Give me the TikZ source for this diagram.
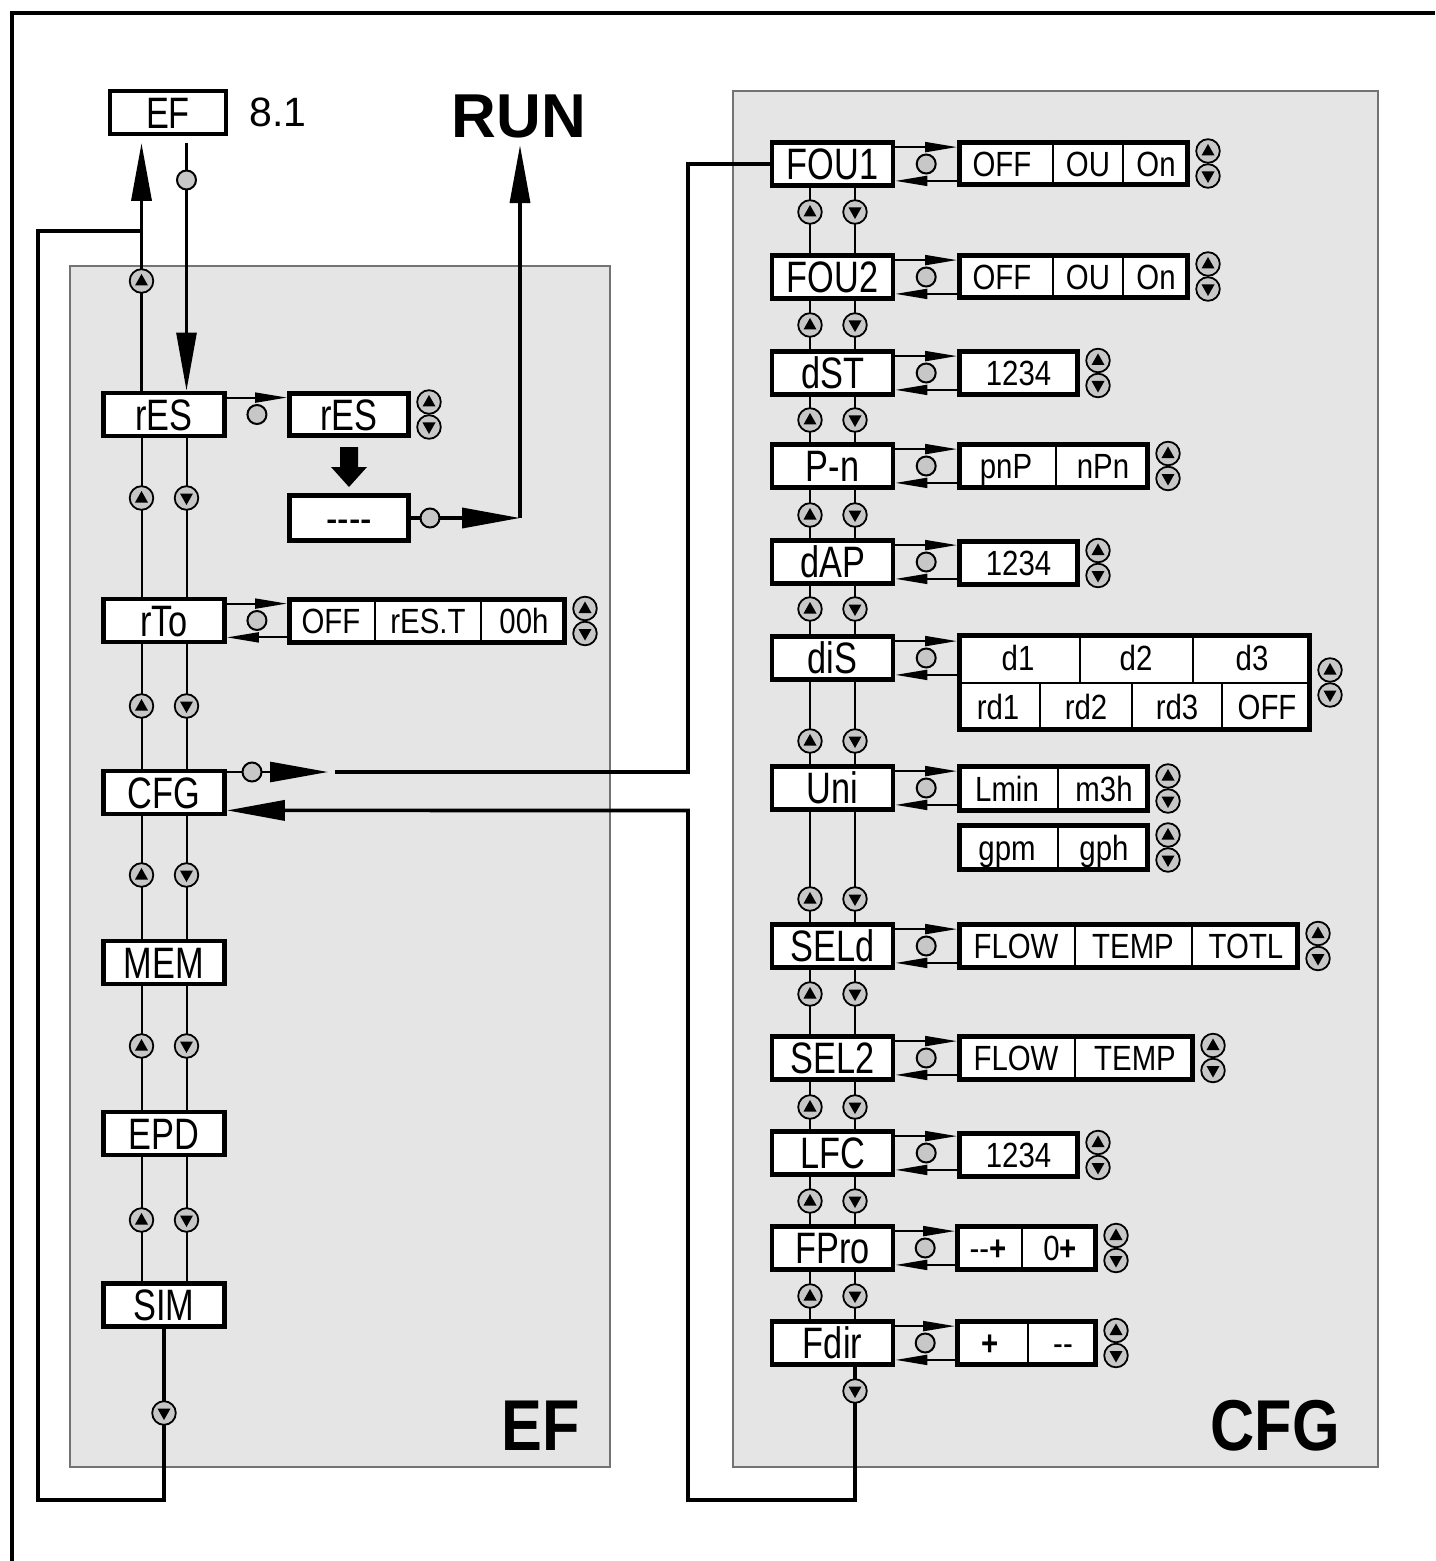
\documentclass[tikz,border=0pt]{standalone}
\usepackage{fontspec}
\setmainfont{Liberation Sans}
\newfontfamily\keyf{Liberation Sans}[FakeStretch=0.78]
\newfontfamily\valf{Liberation Sans}[FakeStretch=0.84]
\newfontfamily\labf{Liberation Sans}[FakeStretch=0.85]
\usetikzlibrary{arrows.meta,calc}
\tikzset{
 bigtip/.tip={Triangle[length=29pt,width=10pt]},
 smtip/.tip={Triangle[length=16pt,width=5pt]},
 thinl/.style={line width=1pt},
 medl/.style={line width=1.4pt},
 thickl/.style={line width=1.8pt},
 panel/.style={fill=black!10, draw=black!55, line width=0.7pt},
 key/.style={draw, fill=white, line width=2.4pt, minimum width=60.5pt, minimum height=21.5pt, inner sep=0pt, font={\keyf\fontsize{22}{24}\selectfont}, text height=15.75pt, text depth=0pt},
 vb/.style={draw, fill=white, line width=2.4pt, inner sep=0pt},
 vt/.style={inner sep=0pt, font={\valf\fontsize{17.5}{20}\selectfont}, text height=12.5pt, text depth=0pt},
 kt/.style={inner sep=0pt, font={\keyf\fontsize{22}{24}\selectfont}, text height=15.75pt, text depth=0pt},
 divl/.style={line width=1pt},
 setc/.style={circle, draw, line width=1pt, fill=black!22, minimum size=9.5pt, inner sep=0pt},
 upb/.pic={\draw[line width=0.9pt, fill=black!22] (0,0) circle[radius=5.9pt]; \fill (0,-7) -- (6.5,4.5) -- (-6.5,4.5) -- cycle;},
 dnb/.pic={\draw[line width=0.9pt, fill=black!22] (0,0) circle[radius=5.9pt]; \fill (0,7) -- (6.5,-4.5) -- (-6.5,-4.5) -- cycle;},
 updn/.pic={\pic at (0,-12.5) {upb}; \pic at (0,12.5) {dnb};},
}
\newcommand\valbox[4]{\node[vb, minimum width=#3pt, minimum height=#4pt] (#1) at (#2) {};}
\newcommand\vtx[4]{\node[vt] (#1) at (#2,#3) {#4};}
\newcommand\dvl[2]{\draw[divl] (#2,0 |- #1.north) -- (#2,0 |- #1.south);}
\newcommand\kvcon[2]{%
 \draw[thinl,-{smtip}] ([yshift=-3.5pt]#1.north east) -- ([yshift=-3.5pt]#1.north east -| #2.west);
 \draw[thinl,-{smtip}] ([yshift=3.5pt]#1.south east -| #2.west) -- ([yshift=3.5pt]#1.south east);
 \node[setc] (c#1) at ($(#1.east)!0.5!(#1.east -| #2.west)$) {};}
\newcommand\colcon[3]{%
 \draw[thinl] ([xshift=-11.25pt]#1.south) -- ([xshift=-11.25pt]#2.north);
 \draw[thinl] ([xshift=11.25pt]#1.south) -- ([xshift=11.25pt]#2.north);
 \pic at ([xshift=-11.25pt]#1.south |- 0,#3) {upb};
 \pic at ([xshift=11.25pt]#1.south |- 0,#3) {dnb};}
\newcommand\btns[1]{\pic at ($(#1.east)+(18,0)$) {updn};}
\begin{document}
\begin{tikzpicture}[x=0.5pt,y=-0.5pt, line join=miter]
\useasboundingbox (0,0) rectangle (1435,1561);
\fill[white] (0,0) rectangle (1435,1561);
\draw[line width=1.6pt] (12,1561) -- (12,13) -- (1435,13);
\draw[panel] (70,266) rectangle (610,1467);
\draw[panel] (733,91) rectangle (1378,1467);

% top
\node[key, line width=2pt, minimum width=58pt, minimum height=21.5pt] (kEF) at (168,112.5) {EF};
\node[inner sep=0pt, font={\fontsize{20.5}{24}\selectfont}, text height=14.7pt, text depth=0pt] (n81) at (278,112) {8.1};
\node[inner sep=0pt, font={\bfseries\fontsize{31}{36}\selectfont}, text height=22.3pt, text depth=0pt] (run) at (519,115.5) {RUN};
\node[inner sep=0pt, font={\labf\bfseries\fontsize{36}{40}\selectfont}, text height=25.8pt, text depth=0pt] (lEF) at (541,1425) {EF};
\node[inner sep=0pt, font={\labf\bfseries\fontsize{36}{40}\selectfont}, text height=25.8pt, text depth=0pt] (lCFG) at (1275,1425) {CFG};

% left keys
\node[key] (krES) at (164,414.5) {rES};
\node[key] (krTo) at (164,620.5) {rTo};
\node[key] (kCFG) at (164,792.5) {CFG};
\node[key] (kMEM) at (164,962.5) {MEM};
\node[key] (kEPD) at (164,1133.5) {EPD};
\node[key] (kSIM) at (164,1305) {SIM};

% right keys
\node[key] (kFOU1) at (832.5,164) {FOU1};
\node[key] (kFOU2) at (832.5,277) {FOU2};
\node[key] (kdST) at (832.5,373) {dST};
\node[key] (kPn) at (832.5,466) {P-n};
\node[key] (kdAP) at (832.5,562) {dAP};
\node[key] (kdiS) at (832.5,658) {diS};
\node[key] (kUni) at (832.5,788) {Uni};
\node[key] (kSELd) at (832.5,946) {SELd};
\node[key] (kSEL2) at (832.5,1058) {SEL2};
\node[key] (kLFC) at (832.5,1153) {LFC};
\node[key] (kFPro) at (832.5,1248) {FPro};
\node[key] (kFdir) at (832.5,1343) {Fdir};

% left values
\valbox{vrES}{349,414.5}{59.6}{21.1}
\node[kt] (trES) at (vrES) {rES};
\valbox{vdash}{349,518}{59.6}{22.6}
\node[kt] (tdash) at (vdash) {-{}-{}-{}-};
\valbox{vrTo}{427,621}{137.6}{21.6}
\dvl{vrTo}{375} \dvl{vrTo}{481}
\vtx{trToa}{331}{621}{OFF} \vtx{trTob}{428}{621}{rES.T} \vtx{trToc}{524}{621}{00h}

% right values
\valbox{vFOU1}{1073.5,163.5}{114.1}{21.1}
\dvl{vFOU1}{1053} \dvl{vFOU1}{1123}
\vtx{tFOU1a}{1002}{164}{OFF} \vtx{tFOU1b}{1088}{164}{OU} \vtx{tFOU1c}{1156}{164}{On}
\valbox{vFOU2}{1073.5,276.5}{114.1}{21.1}
\dvl{vFOU2}{1053} \dvl{vFOU2}{1123}
\vtx{tFOU2a}{1002}{277}{OFF} \vtx{tFOU2b}{1088}{277}{OU} \vtx{tFOU2c}{1156}{277}{On}
\valbox{vdST}{1018.5,373}{59.1}{21.6}
\vtx{tdST}{1018.5}{373}{1234}
\valbox{vPn}{1053.5,466}{94.1}{21.6}
\dvl{vPn}{1056}
\vtx{tPna}{1006}{466}{pnP} \vtx{tPnb}{1103}{466}{nPn}
\valbox{vdAP}{1018.5,563}{59.1}{21.6}
\vtx{tdAP}{1018.5}{563}{1234}
\valbox{vdiS}{1134.5,682.5}{175.1}{47.1}
\draw[divl] (vdiS.west) -- (vdiS.east);
\draw[divl] (1080,0 |- vdiS.north) -- (1080,0 |- vdiS.center);
\draw[divl] (1193,0 |- vdiS.north) -- (1193,0 |- vdiS.center);
\draw[divl] (1040,0 |- vdiS.center) -- (1040,0 |- vdiS.south);
\draw[divl] (1132,0 |- vdiS.center) -- (1132,0 |- vdiS.south);
\draw[divl] (1222,0 |- vdiS.center) -- (1222,0 |- vdiS.south);
\vtx{tdiSa}{1018}{658}{d1} \vtx{tdiSb}{1136}{658}{d2} \vtx{tdiSc}{1252}{658}{d3}
\vtx{tdiSd}{998}{707}{rd1} \vtx{tdiSe}{1086}{707}{rd2} \vtx{tdiSf}{1177}{707}{rd3} \vtx{tdiSg}{1267}{707}{OFF}
\valbox{vUni}{1053.5,788.5}{94.1}{22.1}
\dvl{vUni}{1058}
\vtx{tUnia}{1007}{789}{Lmin} \vtx{tUnib}{1104}{789}{m3h}
\valbox{vUnii}{1053.5,847.5}{94.1}{22.1}
\dvl{vUnii}{1058}
\vtx{tUnic}{1007}{848}{gpm} \vtx{tUnid}{1104}{848}{gph}
\valbox{vSELd}{1128.5,946}{169.1}{21.6}
\dvl{vSELd}{1075} \dvl{vSELd}{1192}
\vtx{tSELda}{1016}{946}{FLOW} \vtx{tSELdb}{1133}{946}{TEMP} \vtx{tSELdc}{1246}{946}{TOTL}
\valbox{vSEL2}{1076,1058}{116.6}{21.6}
\dvl{vSEL2}{1075}
\vtx{tSEL2a}{1016}{1058}{FLOW} \vtx{tSEL2b}{1135}{1058}{TEMP}
\valbox{vLFC}{1018.5,1155}{59.1}{21.6}
\vtx{tLFC}{1018.5}{1155}{1234}
\valbox{vFPro}{1026.5,1248}{69.1}{21.6}
\dvl{vFPro}{1022}
\vtx{tFProa}{988}{1248}{-{}-\textbf{+}} \vtx{tFProb}{1060}{1248}{0\textbf{+}}
\valbox{vFdir}{1026.5,1343}{69.1}{21.6}
\dvl{vFdir}{1028}
\vtx{tFdira}{990}{1343}{\textbf{+}} \vtx{tFdirb}{1063}{1343}{-{}-}

% key-value connectors
\kvcon{krTo}{vrTo}
\kvcon{kFOU1}{vFOU1}
\kvcon{kFOU2}{vFOU2}
\kvcon{kdST}{vdST}
\kvcon{kPn}{vPn}
\kvcon{kdAP}{vdAP}
\kvcon{kdiS}{vdiS}
\kvcon{kUni}{vUni}
\kvcon{kSELd}{vSELd}
\kvcon{kSEL2}{vSEL2}
\kvcon{kLFC}{vLFC}
\kvcon{kFPro}{vFPro}
\kvcon{kFdir}{vFdir}
\draw[thinl,-{smtip}] ([yshift=-3.5pt]krES.north east) -- ([yshift=-3.5pt]krES.north east -| vrES.west);
\node[setc] (ckrES) at ($(krES.east)!0.5!(krES.east -| vrES.west)$) {};

% value buttons
\btns{vrES} \btns{vrTo}
\btns{vFOU1} \btns{vFOU2} \btns{vdST} \btns{vPn} \btns{vdAP} \btns{vdiS}
\btns{vUni} \btns{vUnii} \btns{vSELd} \btns{vSEL2} \btns{vLFC} \btns{vFPro} \btns{vFdir}

% column connectors
\colcon{krES}{krTo}{498}
\colcon{krTo}{kCFG}{706}
\colcon{kCFG}{kMEM}{875}
\colcon{kMEM}{kEPD}{1046}
\colcon{kEPD}{kSIM}{1220}
\colcon{kFOU1}{kFOU2}{212}
\colcon{kFOU2}{kdST}{325}
\colcon{kdST}{kPn}{420}
\colcon{kPn}{kdAP}{515}
\colcon{kdAP}{kdiS}{609}
\colcon{kdiS}{kUni}{741}
\colcon{kUni}{kSELd}{899}
\colcon{kSELd}{kSEL2}{994}
\colcon{kSEL2}{kLFC}{1107}
\colcon{kLFC}{kFPro}{1201}
\colcon{kFPro}{kFdir}{1296}

% EF connections
\coordinate (jn) at (141.5,231);
\draw[thickl] (kSIM.south) |- (38,1500) |- (jn);
\draw[thickl,-{bigtip},shorten >=3.5pt] ([xshift=-11.25pt]krES.north) -- ([xshift=-11.25pt]krES.north |- kEF.south);
\draw[medl,-{bigtip},shorten <=3.5pt] ([xshift=11.25pt]krES.north |- kEF.south) -- ([xshift=11.25pt]krES.north);
\node[setc] (cEF) at ([xshift=11.25pt]krES.north |- 0,180) {};
\pic at ([xshift=-11.25pt]krES.north |- 0,281) {upb};
\pic at (kSIM.south |- 0,1413) {dnb};

% reset to RUN
\fill (340,447) -- (358,447) -- (358,467) -- (367,467) -- (349,487) -- (331,467) -- (340,467) -- cycle;
\coordinate (rc) at (520,518);
\draw[thickl,-{bigtip}] (vdash.east) -- (rc);
\draw[thickl,-{bigtip},shorten >=3.5pt] (rc) -- (rc |- run.south);
\node[setc] (cRUN) at (430,518) {};

% CFG connections
\coordinate (cfgA) at (328,772);
\coordinate (cfgB) at (335,772);
\coordinate (cfgC) at (688,164);
\draw[medl,-{bigtip}] (kCFG.east |- cfgA) -- (cfgA);
\node[setc] (cCFG) at (252,772) {};
\draw[thickl] (cfgB) -| (cfgC) -- (kFOU1.west);
\draw[thickl,-{bigtip}] ([xshift=11.25pt]kFdir.south) |- (688,1500) -- (688,810.5) -- ([yshift=3pt]kCFG.south east);
\pic at ([xshift=11.25pt]kFdir.south |- 0,1391) {dnb};
\end{tikzpicture}
\end{document}
